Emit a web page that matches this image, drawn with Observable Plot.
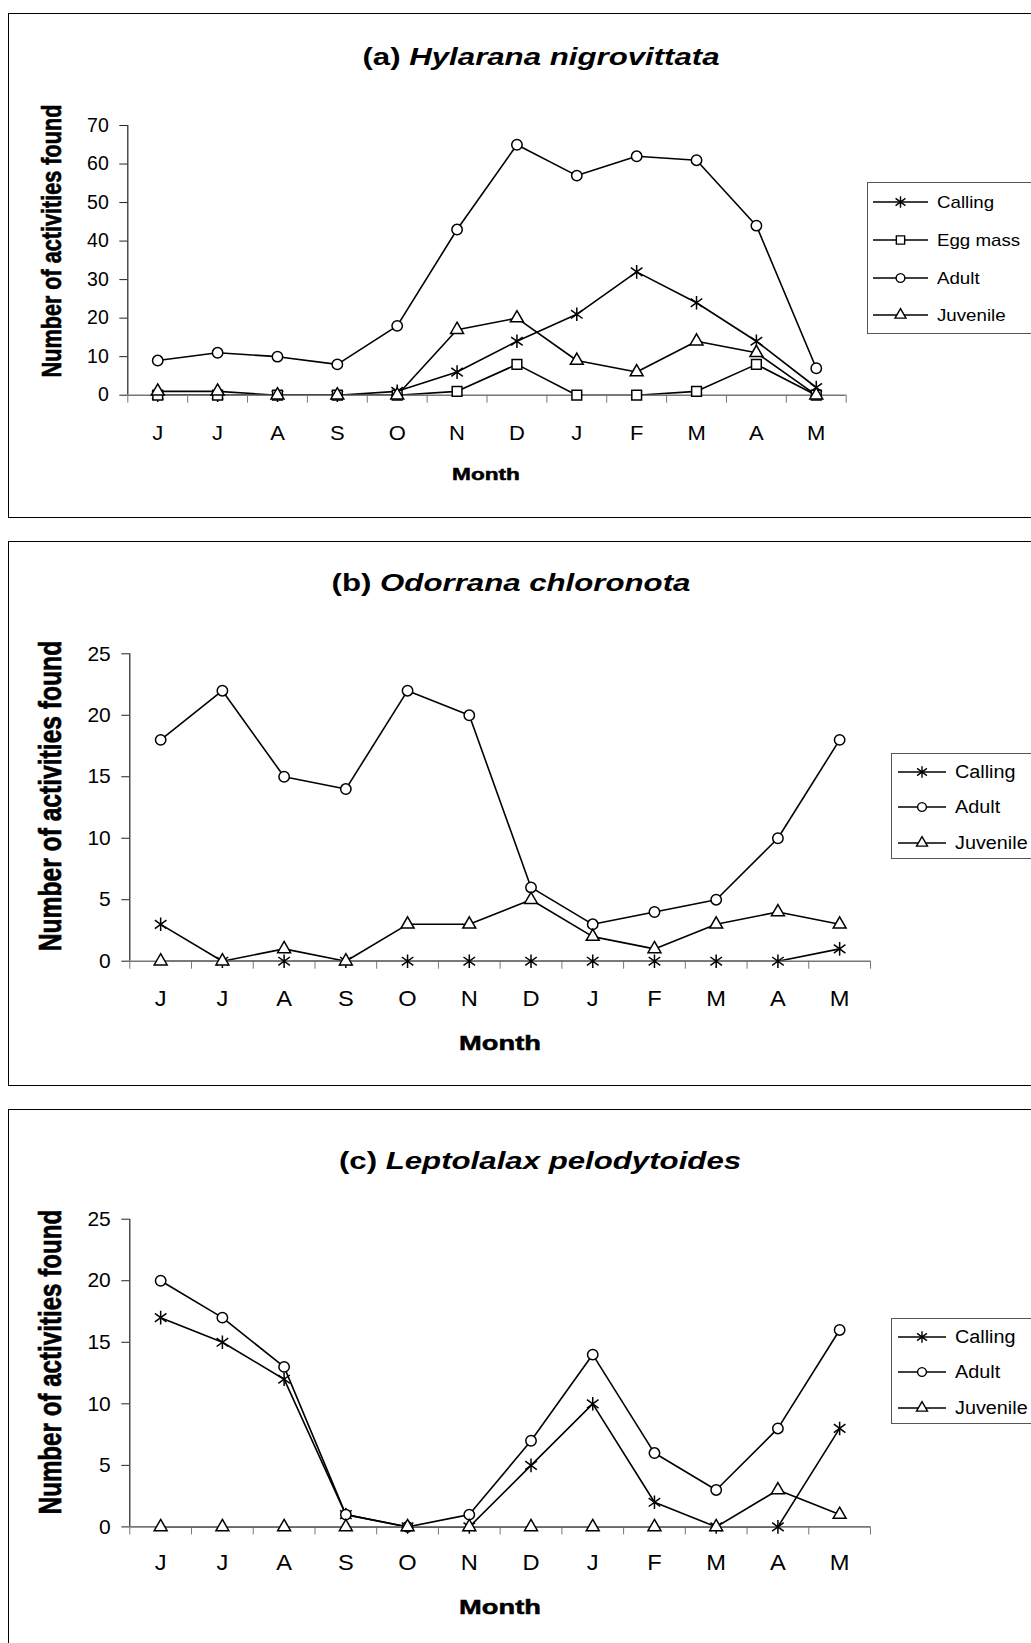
<!DOCTYPE html>
<html>
<head>
<meta charset="utf-8">
<script src="https://cdn.jsdelivr.net/npm/d3@7"></script>
<script src="https://cdn.jsdelivr.net/npm/@observablehq/plot@0.6"></script>
<style>
  html, body { margin: 0; padding: 0; background: #fff; }
  body { position: relative; width: 1031px; height: 1643px; overflow: hidden;
         font-family: "Liberation Sans", Arial, sans-serif; color: #000; }
  .panel { position: absolute; left: 8px; width: 1040px; border: 1px solid #000; box-sizing: border-box; background: #fff; }
  .t { position: absolute; line-height: 1; white-space: nowrap; }
  .heavy { -webkit-text-stroke: 0.5px #000; }
  .legbox { position: absolute; width: 200px; border: 1px solid #555; box-sizing: border-box; background: #fff; }
</style>
</head>
<body>
<script>
// ---------------- data ----------------
const months = ["J","J","A","S","O","N","D","J","F","M","A","M"];

// (a) Hylarana nigrovittata
const aCalling  = [0, 0, 0, 0, 1, 6, 14, 21, 32, 24, 14, 2];
const aEggMass  = [0, 0, 0, 0, 0, 1, 8, 0, 0, 1, 8, 0];
const aAdult    = [9, 11, 10, 8, 18, 43, 65, 57, 62, 61, 44, 7];
const aJuvenile = [1, 1, 0, 0, 0, 17, 20, 9, 6, 14, 11, 0];

// (b) Odorrana chloronota
const bCalling  = [3, 0, 0, 0, 0, 0, 0, 0, 0, 0, 0, 1];
const bAdult    = [18, 22, 15, 14, 22, 20, 6, 3, 4, 5, 10, 18];
const bJuvenile = [0, 0, 1, 0, 3, 3, 5, 2, 1, 3, 4, 3];

// (c) Leptolalax pelodytoides
const cCalling  = [17, 15, 12, 1, 0, 0, 5, 10, 2, 0, 0, 8];
const cAdult    = [20, 17, 13, 1, 0, 1, 7, 14, 6, 3, 8, 16];
const cJuvenile = [0, 0, 0, 0, 0, 0, 0, 0, 0, 0, 3, 1];

const ticksA  = [0, 10, 20, 30, 40, 50, 60, 70];
const ticksBC = [0, 5, 10, 15, 20, 25];

const titles = [["(a) ", "Hylarana nigrovittata"], ["(b) ", "Odorrana chloronota"], ["(c) ", "Leptolalax pelodytoides"]];
const yAxisLabel = "Number of activities found";
const xAxisLabel = "Month";

// ---------------- symbols ----------------
const starSymbol = {
  draw(ctx, size) {
    const r = Math.sqrt(size / Math.PI);
    const dx = r * 0.85, dy = r * 0.62;
    ctx.moveTo(0, -r); ctx.lineTo(0, r);
    ctx.moveTo(-dx, -dy); ctx.lineTo(dx, dy);
    ctx.moveTo(-dx, dy); ctx.lineTo(dx, -dy);
  }
};
const symbolOf = {
  "Calling":  {sym: starSymbol, r: 6.8},
  "Egg mass": {sym: "square", r: 5.5},
  "Adult":    {sym: "circle", r: 5.2},
  "Juvenile": {sym: "triangle", r: 4.8}
};
const d3SymbolOf = {
  "Calling": starSymbol, "Egg mass": d3.symbolSquare, "Adult": d3.symbolCircle, "Juvenile": d3.symbolTriangle
};

// ---------------- layout ----------------
const W = 1023;
const layout = [
  {top: 13, height: 505, x0: 127.3, x1: 845.7, yTop: 125, yZero: 394.7, ymax: 70, ticks: ticksA,
   tickFont: 19.5, monthFont: 20, monthPad: 31, titleX: 541, titleY: 57,
   ylab: {cx: 51, cy: 241, font: 21, sx: 1.3, sy: 1.03},
   month: {cx: 486, cy: 473.6, font: 17},
   legend: {left: 867, top: 182, bottom: 334, rows: [202, 240, 278, 315], lx0: 873, lx1: 928, tx: 937, font: 17},
   series: [["Calling", aCalling], ["Egg mass", aEggMass], ["Adult", aAdult], ["Juvenile", aJuvenile]]},
  {top: 541, height: 545, x0: 129.3, x1: 870, yTop: 653.3, yZero: 960.7, ymax: 25, ticks: ticksBC,
   tickFont: 21, monthFont: 21.5, monthPad: 30, titleX: 511, titleY: 583,
   ylab: {cx: 51, cy: 796, font: 23, sx: 1.39, sy: 1.07},
   month: {cx: 500, cy: 1042.6, font: 20.5},
   legend: {left: 891, top: 752.7, bottom: 859, rows: [771.7, 806.7, 843], lx0: 898, lx1: 946, tx: 955, font: 18},
   series: [["Calling", bCalling], ["Adult", bAdult], ["Juvenile", bJuvenile]]},
  {top: 1108.6, height: 545, x0: 129.3, x1: 870, yTop: 1218.3, yZero: 1526, ymax: 25, ticks: ticksBC,
   tickFont: 21, monthFont: 21.5, monthPad: 27.5, titleX: 540, titleY: 1161,
   ylab: {cx: 51, cy: 1362, font: 23, sx: 1.39, sy: 1.05},
   month: {cx: 500, cy: 1607, font: 20.5},
   legend: {left: 891, top: 1317.7, bottom: 1424.3, rows: [1336.7, 1371.7, 1408.3], lx0: 898, lx1: 946, tx: 955, font: 18},
   series: [["Calling", cCalling], ["Adult", cAdult], ["Juvenile", cJuvenile]]}
];

const Y_TICK_SX = 1.0;   // horizontal stretch of y tick labels
const X_TICK_SX = 1.1;   // horizontal stretch of month tick labels
const LABEL_SX = 1.33;   // horizontal stretch of the "Month" title

function addText(html, cx, cy, font, weight, sx, sy, rotate, cls) {
  const d = document.createElement("div");
  d.className = "t" + (cls ? " " + cls : "");
  d.innerHTML = html;
  d.style.left = cx + "px";
  d.style.top = cy + "px";
  d.style.fontSize = font + "px";
  d.style.fontWeight = weight;
  d.style.transform = `translate(-50%,-50%) scale(${sx},${sy})` + (rotate ? " rotate(-90deg)" : "");
  document.body.appendChild(d);
  return d;
}

function stretch(nodes, sx) {
  nodes.forEach(t => {
    const tr = t.getAttribute("transform") || "";
    const x = +t.getAttribute("x") || 0, y = +t.getAttribute("y") || 0;
    t.setAttribute("transform", `${tr} translate(${x},${y}) scale(${sx},1) translate(${-x},${-y})`);
  });
}

layout.forEach((L, k) => {
  // panel border
  const box = document.createElement("div");
  box.className = "panel";
  box.style.top = L.top + "px";
  box.style.height = L.height + "px";
  document.body.appendChild(box);

  const marginLeft = L.x0 - 8;
  const marginRight = 8 + W - L.x1;
  const marginTop = L.yTop - L.top;
  const marginBottom = L.top + L.height - L.yZero;

  const lineMarks = [];
  const dotMarks = [];
  L.series.forEach(([name, vals]) => {
    const rows = vals.map((v, i) => ({i, v}));
    lineMarks.push(Plot.line(rows, {x: "i", y: "v", stroke: "#000", strokeWidth: 1.6}));
    const s = symbolOf[name];
    dotMarks.push(Plot.dot(rows, {x: "i", y: "v", symbol: s.sym, r: s.r, stroke: "#000", fill: "#fff", strokeWidth: 1.5}));
  });

  const svg = Plot.plot({
    width: W,
    height: L.height,
    marginLeft, marginRight, marginTop, marginBottom,
    x: {type: "linear", domain: [-0.5, 11.5]},
    y: {domain: [0, L.ymax]},
    style: {fontFamily: "'Liberation Sans', Arial, sans-serif", fontSize: L.tickFont + "px", color: "#000", background: "transparent", overflow: "visible"},
    marks: [
      Plot.axisY({ticks: L.ticks, tickSize: 8, tickPadding: 11, label: null, fontSize: L.tickFont, stroke: "#222"}),
      Plot.axisX({ticks: d3.range(-0.5, 12, 1), tickSize: 8, tickFormat: () => "", label: null, stroke: "#777"}),
      Plot.axisX({ticks: d3.range(12), tickSize: 0, tickPadding: L.monthPad, tickFormat: i => months[i], label: null, fontSize: L.monthFont}),
      Plot.ruleX([-0.5], {y1: 0, y2: L.ymax, stroke: "#222", strokeWidth: 1.2}),
      ...lineMarks,
      Plot.ruleY([0], {stroke: "#777", strokeWidth: 1.6}),
      ...dotMarks
    ]
  });
  svg.style.position = "absolute";
  svg.style.left = "8px";
  svg.style.top = L.top + "px";
  document.body.appendChild(svg);

  // stretch tick labels horizontally like the reference
  stretch(svg.querySelectorAll('g[aria-label^="y-axis"] text'), Y_TICK_SX);
  stretch(svg.querySelectorAll('g[aria-label^="x-axis"] text'), X_TICK_SX);

  // title
  const [pre, species] = titles[k];
  addText(`<b>${pre}</b><b><i>${species}</i></b>`, L.titleX, L.titleY, 24, "bold", 1.3, 1, false);

  // y-axis label
  addText(yAxisLabel, L.ylab.cx, L.ylab.cy, L.ylab.font, "bold", L.ylab.sx, L.ylab.sy, true, "heavy");

  // x-axis label
  addText(xAxisLabel, L.month.cx, L.month.cy, L.month.font, "bold", LABEL_SX, 1, false, "heavy");

  // legend
  const G = L.legend;
  const lb = document.createElement("div");
  lb.className = "legbox";
  lb.style.left = G.left + "px";
  lb.style.top = G.top + "px";
  lb.style.height = (G.bottom - G.top) + "px";
  document.body.appendChild(lb);
  L.series.forEach(([name], j) => {
    const cy = G.rows[j];
    const w = G.lx1 - G.lx0;
    const sv = d3.create("svg")
      .attr("width", w).attr("height", 24)
      .style("position", "absolute")
      .style("left", G.lx0 + "px")
      .style("top", (cy - 12) + "px")
      .style("overflow", "visible");
    sv.append("line").attr("x1", 0).attr("x2", w).attr("y1", 12).attr("y2", 12)
      .attr("stroke", "#000").attr("stroke-width", 1.6);
    const s = symbolOf[name];
    const size = Math.PI * (s.r * 0.85) * (s.r * 0.85);
    sv.append("path")
      .attr("transform", `translate(${w / 2},12)`)
      .attr("d", d3.symbol().type(d3SymbolOf[name]).size(size)())
      .attr("fill", "#fff").attr("stroke", "#000").attr("stroke-width", 1.4);
    document.body.appendChild(sv.node());
    const tx = document.createElement("div");
    tx.className = "t";
    tx.textContent = name;
    tx.style.left = G.tx + "px";
    tx.style.top = cy + "px";
    tx.style.fontSize = G.font + "px";
    tx.style.transformOrigin = "0 50%";
    tx.style.transform = "translate(0,-50%) scale(1.1,1)";
    document.body.appendChild(tx);
  });
});
</script>
</body>
</html>
